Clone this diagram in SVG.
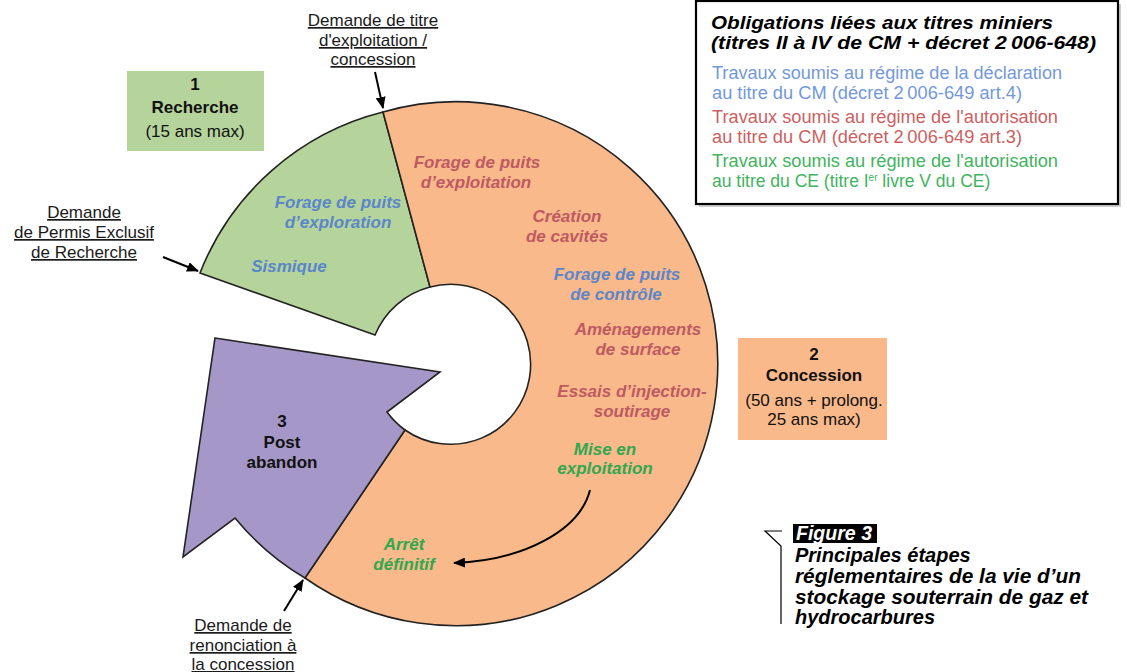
<svg xmlns="http://www.w3.org/2000/svg" width="1127" height="672" viewBox="0 0 1127 672">
<defs>
<style>
.sector{stroke:#222;stroke-width:1.6;stroke-linejoin:miter}
.lbl{font-family:"Liberation Sans",Arial,sans-serif;font-weight:bold;font-style:italic;font-size:17px;text-anchor:middle}
.blue{fill:#5b86c8}
.red{fill:#bd5a62}
.green{fill:#2fa84f}
.boxt{font-family:"Liberation Sans",Arial,sans-serif;font-size:17px;text-anchor:middle;fill:#111}
.b{font-weight:bold}
.ann{font-family:"Liberation Sans",Arial,sans-serif;font-size:17px;text-anchor:middle;fill:#1a1a1a;text-decoration:underline}
.leg{font-family:"Liberation Sans",Arial,sans-serif;font-size:17.5px}
.legt{font-family:"Liberation Sans",Arial,sans-serif;font-size:18.5px;font-weight:bold;font-style:italic;fill:#000}
.cap{font-family:"Liberation Sans",Arial,sans-serif;font-size:20px;font-weight:bold;font-style:italic;fill:#000}
.conn{fill:none;stroke:#000;stroke-width:2}
</style>
<marker id="ah" markerUnits="userSpaceOnUse" markerWidth="12" markerHeight="10" refX="11" refY="5" orient="auto">
<path d="M0,0 L12,5 L0,10 Z" fill="#000"/>
</marker>
</defs>
<rect width="1127" height="672" fill="#fff"/>

<g id="sector-recherche">
<path class="sector" fill="#b5d49c" d="M200,273 A266,266 0 0 1 383,112 L430,287 A82,82 0 0 0 375,335 Z"/>
<text class="lbl blue" x="338" y="208">Forage de puits</text>
<text class="lbl blue" x="338" y="228">d’exploration</text>
<text class="lbl blue" x="289" y="272">Sismique</text>
</g>

<g id="sector-concession">
<path class="sector" fill="#f9b98b" d="M383,112 A262,262 0 1 1 305,578 L405,430 A80,80 0 1 0 430,287 Z"/>
<text class="lbl red" x="477" y="168">Forage de puits</text>
<text class="lbl red" x="476" y="188">d’exploitation</text>
<text class="lbl red" x="567" y="222">Création</text>
<text class="lbl red" x="567" y="242">de cavités</text>
<text class="lbl blue" x="617" y="280">Forage de puits</text>
<text class="lbl blue" x="616" y="300">de contrôle</text>
<text class="lbl red" x="638" y="335">Aménagements</text>
<text class="lbl red" x="638" y="355">de surface</text>
<text class="lbl red" x="632" y="397">Essais d’injection-</text>
<text class="lbl red" x="632" y="417">soutirage</text>
<text class="lbl green" x="605" y="455">Mise en</text>
<text class="lbl green" x="605" y="474">exploitation</text>
<text class="lbl green" x="404" y="550">Arrêt</text>
<text class="lbl green" x="404" y="570">définitif</text>
</g>

<g id="sector-post">
<path class="sector" fill="#a597c7" d="M215,338 L440,372 L387,412 A82,82 0 0 0 405,430 L305,578 A266,266 0 0 1 235,518 L183,557 Z"/>
<text class="boxt b" x="282" y="427">3</text>
<text class="boxt b" x="282" y="448">Post</text>
<text class="boxt b" x="282" y="468">abandon</text>
</g>

<g id="box-recherche">
<rect x="127" y="71" width="137" height="80" fill="#b5d49c"/>
<text class="boxt b" x="195" y="90">1</text>
<text class="boxt b" x="195" y="113">Recherche</text>
<text class="boxt" x="195" y="137">(15 ans max)</text>
</g>

<g id="box-concession">
<rect x="738" y="338" width="149" height="102" fill="#f9b98b"/>
<text class="boxt b" x="814" y="360">2</text>
<text class="boxt b" x="814" y="381">Concession</text>
<text class="boxt" x="814" y="406">(50 ans + prolong.</text>
<text class="boxt" x="814" y="425">25 ans max)</text>
</g>

<g id="label-demande-titre">
<text class="ann" x="373" y="26">Demande de titre</text>
<text class="ann" x="373" y="46">d'exploitation /</text>
<text class="ann" x="373" y="65">concession</text>
</g>

<g id="label-demande-per">
<text class="ann" x="84" y="218">Demande</text>
<text class="ann" x="84" y="238">de Permis Exclusif</text>
<text class="ann" x="84" y="258">de Recherche</text>
</g>

<g id="label-renonciation">
<text class="ann" x="243" y="631">Demande de</text>
<text class="ann" x="243" y="651">renonciation à</text>
<text class="ann" x="243" y="670">la concession</text>
</g>

<g id="connectors">
<path class="conn" d="M375,72 L383,108" marker-end="url(#ah)"/>
<path class="conn" d="M163,257 L198,271" marker-end="url(#ah)"/>
<path class="conn" d="M284,611 L303,580" marker-end="url(#ah)"/>
<path class="conn" d="M590,490 C580,530 525,560 454,563" marker-end="url(#ah)"/>
</g>

<g id="legend">
<rect x="699" y="4" width="422" height="203" fill="#cfcfcf"/>
<rect x="696" y="1" width="422" height="203" fill="#fff" stroke="#000" stroke-width="2.2"/>
<text class="legt" x="711" y="29" textLength="342" lengthAdjust="spacingAndGlyphs">Obligations liées aux titres miniers</text>
<text class="legt" x="711" y="49" textLength="385" lengthAdjust="spacingAndGlyphs">(titres II à IV de CM + décret 2&#8201;006-648)</text>
<text class="leg" x="712" y="79" fill="#7398dc" textLength="350" lengthAdjust="spacingAndGlyphs">Travaux soumis au régime de la déclaration</text>
<text class="leg" x="712" y="99" fill="#7398dc" textLength="310" lengthAdjust="spacingAndGlyphs">au titre du CM (décret 2&#8201;006-649 art.4)</text>
<text class="leg" x="712" y="123" fill="#cc5f5f" textLength="346" lengthAdjust="spacingAndGlyphs">Travaux soumis au régime de l'autorisation</text>
<text class="leg" x="712" y="143" fill="#cc5f5f" textLength="310" lengthAdjust="spacingAndGlyphs">au titre du CM (décret 2&#8201;006-649 art.3)</text>
<text class="leg" x="712" y="167" fill="#3fb35e" textLength="346" lengthAdjust="spacingAndGlyphs">Travaux soumis au régime de l'autorisation</text>
<text class="leg" x="712" y="187" fill="#3fb35e">au titre du CE (titre I<tspan font-size="10" dy="-6">er</tspan><tspan dy="6"> livre V du CE)</tspan></text>
</g>

<g id="caption">
<path d="M782,531 L765,531 L781,546 L781,624" fill="none" stroke="#000" stroke-width="1.2"/>
<rect x="793" y="524" width="84" height="19" fill="#000"/>
<text class="cap" x="796" y="540" style="fill:#fff" font-size="18" textLength="76" lengthAdjust="spacingAndGlyphs">Figure 3</text>
<text class="cap" x="795" y="562">Principales étapes</text>
<text class="cap" x="795" y="583" textLength="286" lengthAdjust="spacingAndGlyphs">réglementaires de la vie d’un</text>
<text class="cap" x="795" y="604" textLength="293" lengthAdjust="spacingAndGlyphs">stockage souterrain de gaz et</text>
<text class="cap" x="795" y="624">hydrocarbures</text>
</g>
</svg>
